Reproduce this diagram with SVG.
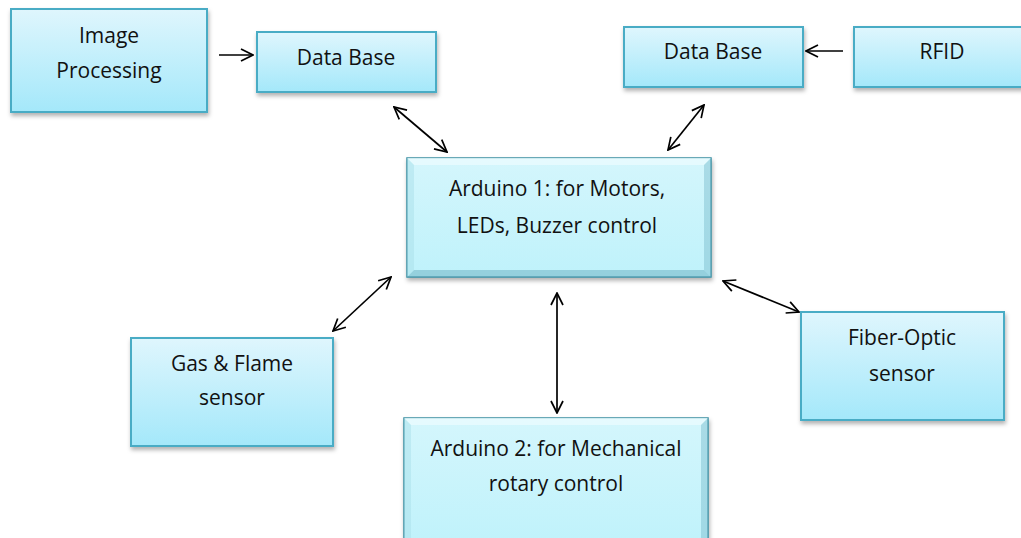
<svg xmlns="http://www.w3.org/2000/svg" width="1021" height="538" viewBox="0 0 1021 538">
<defs>
<linearGradient id="g" x1="0" y1="0" x2="0" y2="1">
<stop offset="0" stop-color="#dff6fd"/>
<stop offset="1" stop-color="#a4e8fa"/>
</linearGradient>
<linearGradient id="gb" x1="0" y1="0" x2="0" y2="1">
<stop offset="0" stop-color="#d4f6fc"/>
<stop offset="1" stop-color="#bff2fb"/>
</linearGradient>
<filter id="sh" x="-10%" y="-10%" width="120%" height="130%">
<feDropShadow dx="1" dy="3" stdDeviation="2" flood-color="#000" flood-opacity="0.3"/>
</filter>
<marker id="ah" viewBox="0 0 14 14" refX="13" refY="7" markerWidth="14" markerHeight="14" markerUnits="userSpaceOnUse" orient="auto-start-reverse">
<path d="M1,1 L13,7 L1,13" fill="none" stroke="#000" stroke-width="1.7"/>
</marker>
</defs>
<style>
.box{fill:url(#g);stroke:#4aacc5;stroke-width:2;filter:url(#sh)}
.bev{fill:url(#gb);stroke:#3a8ea3;stroke-width:1.5;filter:url(#sh)}
.t{font-family:"Open Sans","Liberation Sans",sans-serif;font-size:21px;fill:#111;text-anchor:middle}
.c{stroke:#000;stroke-width:1.7;fill:none}
</style>
<rect width="1021" height="538" fill="#fff"/>
<g id="image-processing"><rect class="box" x="11" y="9" width="196" height="103"/><text class="t" x="109" y="43">Image</text><text class="t" x="109" y="78">Processing</text></g>
<g id="database-left"><rect class="box" x="257" y="32" width="179" height="60"/><text class="t" x="346" y="65">Data Base</text></g>
<g id="database-right"><rect class="box" x="624" y="27" width="179" height="60"/><text class="t" x="713" y="59">Data Base</text></g>
<g id="rfid"><rect class="box" x="854" y="27" width="180" height="60"/><text class="t" x="942" y="59">RFID</text></g>
<g id="arduino1"><rect class="bev" x="407" y="158" width="304" height="119"/>
<path d="M407,158 L711,158 L704,165 L414,165 Z" fill="#eafbfe" opacity="0.8"/>
<path d="M711,158 L711,277 L704,270 L704,165 Z" fill="#7fc0cf" opacity="0.5"/>
<path d="M407,277 L711,277 L704,270 L414,270 Z" fill="#6aaec0" opacity="0.5"/>
<path d="M407,158 L407,277 L414,270 L414,165 Z" fill="#a9dfea" opacity="0.5"/>
<text class="t" x="557" y="196">Arduino 1: for Motors,</text><text class="t" x="557" y="233">LEDs, Buzzer control</text></g>
<g id="arduino2"><rect class="bev" x="404" y="418" width="304" height="130"/>
<path d="M404,418 L708,418 L701,425 L411,425 Z" fill="#eafbfe" opacity="0.8"/>
<path d="M708,418 L708,540 L701,540 L701,425 Z" fill="#7fc0cf" opacity="0.5"/>
<path d="M404,418 L404,540 L411,540 L411,425 Z" fill="#a9dfea" opacity="0.5"/>
<text class="t" x="556" y="456">Arduino 2: for Mechanical</text><text class="t" x="556" y="491">rotary control</text></g>
<g id="gas-flame"><rect class="box" x="131" y="338" width="202" height="108"/><text class="t" x="232" y="371">Gas &amp; Flame</text><text class="t" x="232" y="405">sensor</text></g>
<g id="fiber-optic"><rect class="box" x="801" y="312" width="203" height="108"/><text class="t" x="902" y="345">Fiber-Optic</text><text class="t" x="902" y="381">sensor</text></g>
<g id="connectors">
<line class="c" x1="219" y1="55" x2="253" y2="55" marker-end="url(#ah)"/>
<line class="c" x1="843" y1="51" x2="806" y2="51" marker-end="url(#ah)"/>
<line class="c" x1="394" y1="107" x2="447" y2="152" marker-start="url(#ah)" marker-end="url(#ah)"/>
<line class="c" x1="704" y1="105" x2="668" y2="150" marker-start="url(#ah)" marker-end="url(#ah)"/>
<line class="c" x1="333" y1="331" x2="391" y2="277" marker-start="url(#ah)" marker-end="url(#ah)"/>
<line class="c" x1="723" y1="281" x2="799" y2="312" marker-start="url(#ah)" marker-end="url(#ah)"/>
<line class="c" x1="557" y1="293" x2="557" y2="413" marker-start="url(#ah)" marker-end="url(#ah)"/>
</g>
</svg>
